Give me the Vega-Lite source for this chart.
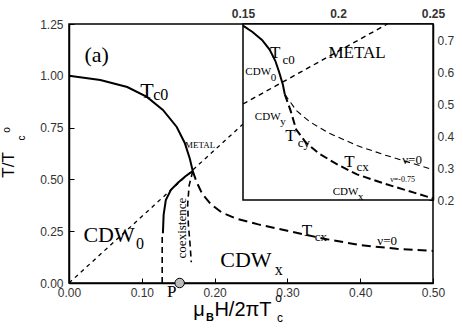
{
  "$schema": "https://vega.github.io/schema/vega-lite/v6.json",
  "width": 364,
  "height": 259,
  "autosize": {"type": "none"},
  "padding": {"left": 69, "top": 24, "right": 30, "bottom": 45},
  "background": "white",
  "config": {"view": {"stroke": "black", "strokeWidth": 1.5}},
  "datasets": {
    "lines": [
      {"s": "tc0", "i": 0, "x": 0.0, "y": 1.0},
      {"s": "tc0", "i": 1, "x": 0.043, "y": 0.98},
      {"s": "tc0", "i": 2, "x": 0.08, "y": 0.946},
      {"s": "tc0", "i": 3, "x": 0.107, "y": 0.898},
      {"s": "tc0", "i": 4, "x": 0.129, "y": 0.835},
      {"s": "tc0", "i": 5, "x": 0.148, "y": 0.753},
      {"s": "tc0", "i": 6, "x": 0.159, "y": 0.676},
      {"s": "tc0", "i": 7, "x": 0.166, "y": 0.6},
      {"s": "tc0", "i": 8, "x": 0.17, "y": 0.54},
      {"s": "coex", "i": 0, "x": 0.129, "y": 0.24},
      {"s": "coex", "i": 1, "x": 0.13, "y": 0.33},
      {"s": "coex", "i": 2, "x": 0.133, "y": 0.4},
      {"s": "coex", "i": 3, "x": 0.14, "y": 0.45},
      {"s": "coex", "i": 4, "x": 0.15, "y": 0.485},
      {"s": "coex", "i": 5, "x": 0.16, "y": 0.515},
      {"s": "coex", "i": 6, "x": 0.17, "y": 0.54},
      {"s": "diag", "i": 0, "x": 0.0, "y": 0.0},
      {"s": "diag", "i": 1, "x": 0.24, "y": 0.77},
      {"s": "vleft", "i": 0, "x": 0.128, "y": 0.0},
      {"s": "vleft", "i": 1, "x": 0.128, "y": 0.23},
      {"s": "vright", "i": 0, "x": 0.17, "y": 0.54},
      {"s": "vright", "i": 1, "x": 0.165, "y": 0.47},
      {"s": "vright", "i": 2, "x": 0.163, "y": 0.38},
      {"s": "vright", "i": 3, "x": 0.164, "y": 0.28},
      {"s": "vright", "i": 4, "x": 0.166, "y": 0.2},
      {"s": "vright", "i": 5, "x": 0.168, "y": 0.1},
      {"s": "tcx", "i": 0, "x": 0.17, "y": 0.54},
      {"s": "tcx", "i": 1, "x": 0.175, "y": 0.49},
      {"s": "tcx", "i": 2, "x": 0.183, "y": 0.43},
      {"s": "tcx", "i": 3, "x": 0.195, "y": 0.38},
      {"s": "tcx", "i": 4, "x": 0.21, "y": 0.34},
      {"s": "tcx", "i": 5, "x": 0.23, "y": 0.31},
      {"s": "tcx", "i": 6, "x": 0.26, "y": 0.283},
      {"s": "tcx", "i": 7, "x": 0.3, "y": 0.252},
      {"s": "tcx", "i": 8, "x": 0.35, "y": 0.214},
      {"s": "tcx", "i": 9, "x": 0.4, "y": 0.183},
      {"s": "tcx", "i": 10, "x": 0.45, "y": 0.165},
      {"s": "tcx", "i": 11, "x": 0.5, "y": 0.155}
    ],
    "ilines": [
      {"s": "itc0", "i": 0, "x": 0.15, "y": 0.745},
      {"s": "itc0", "i": 1, "x": 0.155, "y": 0.725},
      {"s": "itc0", "i": 2, "x": 0.16, "y": 0.7},
      {"s": "itc0", "i": 3, "x": 0.164, "y": 0.67},
      {"s": "itc0", "i": 4, "x": 0.167, "y": 0.635},
      {"s": "itc0", "i": 5, "x": 0.169, "y": 0.6},
      {"s": "itc0", "i": 6, "x": 0.171, "y": 0.56},
      {"s": "itc0", "i": 7, "x": 0.172, "y": 0.53},
      {"s": "idiag", "i": 0, "x": 0.15, "y": 0.5},
      {"s": "idiag", "i": 1, "x": 0.226, "y": 0.75},
      {"s": "inu0", "i": 0, "x": 0.172, "y": 0.53},
      {"s": "inu0", "i": 1, "x": 0.178, "y": 0.48},
      {"s": "inu0", "i": 2, "x": 0.185, "y": 0.445},
      {"s": "inu0", "i": 3, "x": 0.195, "y": 0.41},
      {"s": "inu0", "i": 4, "x": 0.21, "y": 0.37},
      {"s": "inu0", "i": 5, "x": 0.225, "y": 0.34},
      {"s": "inu0", "i": 6, "x": 0.25, "y": 0.295},
      {"s": "inu75", "i": 0, "x": 0.172, "y": 0.53},
      {"s": "inu75", "i": 1, "x": 0.175, "y": 0.48},
      {"s": "inu75", "i": 2, "x": 0.178, "y": 0.42},
      {"s": "inu75", "i": 3, "x": 0.183, "y": 0.38},
      {"s": "inu75", "i": 4, "x": 0.19, "y": 0.345},
      {"s": "inu75", "i": 5, "x": 0.2, "y": 0.31},
      {"s": "inu75", "i": 6, "x": 0.21, "y": 0.28},
      {"s": "inu75", "i": 7, "x": 0.225, "y": 0.25},
      {"s": "inu75", "i": 8, "x": 0.24, "y": 0.223},
      {"s": "inu75", "i": 9, "x": 0.25, "y": 0.205}
    ],
    "mlab": [
      {"k": "big", "t": "(a)", "x": 0.038, "y": 1.1},
      {"k": "big", "t": "T", "x": 0.107, "y": 0.926},
      {"k": "big", "t": "CDW", "x": 0.055, "y": 0.232},
      {"k": "big", "t": "CDW", "x": 0.243, "y": 0.111},
      {"k": "sub", "t": "c0", "x": 0.126, "y": 0.907},
      {"k": "sub", "t": "0", "x": 0.0975, "y": 0.188},
      {"k": "sub", "t": "x", "x": 0.288, "y": 0.063},
      {"k": "mid", "t": "T", "x": 0.327, "y": 0.251},
      {"k": "mid", "t": "P", "x": 0.141, "y": -0.043},
      {"k": "sm", "t": "cx", "x": 0.346, "y": 0.222},
      {"k": "sm", "t": "ν=0", "x": 0.437, "y": 0.203},
      {"k": "tiny", "t": "METAL", "x": 0.18, "y": 0.666},
      {"k": "rot", "t": "coexistence", "x": 0.155, "y": 0.265},
      {"k": "tbig", "t": "μ", "x": 0.1786, "y": -0.13},
      {"k": "tbig", "t": "H/2πT", "x": 0.239, "y": -0.13},
      {"k": "tsub", "t": "B", "x": 0.1937, "y": -0.169},
      {"k": "tss", "t": "o", "x": 0.288, "y": -0.07},
      {"k": "tss", "t": "c", "x": 0.29, "y": -0.169},
      {"k": "yt", "t": "T/T", "x": -0.082, "y": 0.57},
      {"k": "ytss", "t": "c", "x": -0.0646, "y": 0.7},
      {"k": "ytss", "t": "o", "x": -0.085, "y": 0.738}
    ],
    "ilab": [
      {"k": "it", "t": "T", "x": 0.167, "y": 0.659},
      {"k": "it", "t": "T", "x": 0.175, "y": 0.4},
      {"k": "it", "t": "T", "x": 0.206, "y": 0.319},
      {"k": "it", "t": "METAL", "x": 0.21, "y": 0.659},
      {"k": "isub", "t": "c0", "x": 0.174, "y": 0.638},
      {"k": "isub", "t": "cy", "x": 0.182, "y": 0.378},
      {"k": "isub", "t": "cx", "x": 0.213, "y": 0.303},
      {"k": "isub", "t": "ν=0", "x": 0.239, "y": 0.325},
      {"k": "ism", "t": "CDW", "x": 0.158, "y": 0.6},
      {"k": "ism", "t": "0", "x": 0.166, "y": 0.581},
      {"k": "ism", "t": "CDW", "x": 0.163, "y": 0.458},
      {"k": "ism", "t": "y", "x": 0.171, "y": 0.443},
      {"k": "ism", "t": "CDW", "x": 0.204, "y": 0.225},
      {"k": "ism", "t": "x", "x": 0.212, "y": 0.21},
      {"k": "itiny", "t": "ν=-0.75", "x": 0.234, "y": 0.263}
    ],
    "box": [{"x1": 0.15, "x2": 0.25, "y1": 0.2, "y2": 0.75}],
    "pt": [{"x": 0.152, "y": 0}]
  },
  "layer": [
    {
      "layer": [
        {
          "data": {"name": "lines"},
          "transform": [{"filter": "datum.s == 'tc0' || datum.s == 'coex'"}],
          "mark": {"type": "line", "color": "black", "strokeWidth": 2},
          "encoding": {
            "x": {"field": "x", "type": "quantitative",
              "scale": {"domain": [0, 0.5], "nice": false, "zero": false},
              "axis": {"orient": "bottom", "title": null, "grid": false,
                "values": [0, 0.05, 0.1, 0.15, 0.2, 0.25, 0.3, 0.35, 0.4, 0.45, 0.5],
                "labelExpr": "round(datum.value*100) % 10 == 0 ? format(datum.value, '.2f') : ''",
                "tickSize": -5, "tickColor": "black", "domainColor": "black", "domainWidth": 1.5,
                "labelPadding": 9, "labelFont": "Liberation Sans", "labelFontSize": 12, "labelColor": "#333", "labelFlush": false, "labelOverlap": false}},
            "y": {"field": "y", "type": "quantitative",
              "scale": {"domain": [0, 1.25], "nice": false, "zero": false},
              "axis": {"orient": "left", "title": null, "grid": false,
                "values": [0, 0.125, 0.25, 0.375, 0.5, 0.625, 0.75, 0.875, 1, 1.125, 1.25],
                "labelExpr": "round(datum.value*1000) % 250 == 0 ? format(datum.value, '.2f') : ''",
                "tickSize": -5, "tickColor": "black", "domainColor": "black", "domainWidth": 1.5,
                "labelPadding": 11, "labelFont": "Liberation Sans", "labelFontSize": 12, "labelColor": "#333", "labelFlush": false, "labelOverlap": false}},
            "detail": {"field": "s"},
            "order": {"field": "i"}
          }
        },
        {
          "data": {"name": "lines"},
          "transform": [{"filter": "datum.s == 'diag'"}],
          "mark": {"type": "line", "color": "black", "strokeWidth": 1.3, "strokeDash": [4, 4]},
          "encoding": {"x": {"field": "x", "type": "quantitative"}, "y": {"field": "y", "type": "quantitative"}, "order": {"field": "i"}}
        },
        {
          "data": {"name": "lines"},
          "transform": [{"filter": "datum.s == 'vleft' || datum.s == 'vright'"}],
          "mark": {"type": "line", "color": "black", "strokeWidth": 1.6, "strokeDash": [6, 4]},
          "encoding": {"x": {"field": "x", "type": "quantitative"}, "y": {"field": "y", "type": "quantitative"}, "detail": {"field": "s"}, "order": {"field": "i"}}
        },
        {
          "data": {"name": "lines"},
          "transform": [{"filter": "datum.s == 'tcx'"}],
          "mark": {"type": "line", "color": "black", "strokeWidth": 2, "strokeDash": [9, 5]},
          "encoding": {"x": {"field": "x", "type": "quantitative"}, "y": {"field": "y", "type": "quantitative"}, "order": {"field": "i"}}
        },
        {
          "data": {"name": "pt"},
          "mark": {"type": "point", "shape": "circle", "filled": true, "fill": "#bbb", "stroke": "black", "strokeWidth": 1, "size": 90, "opacity": 1},
          "encoding": {"x": {"field": "x", "type": "quantitative"}, "y": {"field": "y", "type": "quantitative"}}
        },
        {
          "data": {"name": "mlab"},
          "transform": [{"filter": "datum.k == 'big'"}],
          "mark": {"type": "text", "font": "Liberation Serif", "fontSize": 22, "align": "center", "baseline": "middle", "color": "black"},
          "encoding": {"x": {"field": "x", "type": "quantitative"}, "y": {"field": "y", "type": "quantitative"}, "text": {"field": "t"}}
        },
        {
          "data": {"name": "mlab"},
          "transform": [{"filter": "datum.k == 'sub'"}],
          "mark": {"type": "text", "font": "Liberation Serif", "fontSize": 16, "align": "center", "baseline": "middle", "color": "black"},
          "encoding": {"x": {"field": "x", "type": "quantitative"}, "y": {"field": "y", "type": "quantitative"}, "text": {"field": "t"}}
        },
        {
          "data": {"name": "mlab"},
          "transform": [{"filter": "datum.k == 'mid'"}],
          "mark": {"type": "text", "font": "Liberation Serif", "fontSize": 17, "align": "center", "baseline": "middle", "color": "black"},
          "encoding": {"x": {"field": "x", "type": "quantitative"}, "y": {"field": "y", "type": "quantitative"}, "text": {"field": "t"}}
        },
        {
          "data": {"name": "mlab"},
          "transform": [{"filter": "datum.k == 'sm'"}],
          "mark": {"type": "text", "font": "Liberation Serif", "fontSize": 13, "align": "center", "baseline": "middle", "color": "black"},
          "encoding": {"x": {"field": "x", "type": "quantitative"}, "y": {"field": "y", "type": "quantitative"}, "text": {"field": "t"}}
        },
        {
          "data": {"name": "mlab"},
          "transform": [{"filter": "datum.k == 'tiny'"}],
          "mark": {"type": "text", "font": "Liberation Serif", "fontSize": 9, "align": "center", "baseline": "middle", "color": "black"},
          "encoding": {"x": {"field": "x", "type": "quantitative"}, "y": {"field": "y", "type": "quantitative"}, "text": {"field": "t"}}
        },
        {
          "data": {"name": "mlab"},
          "transform": [{"filter": "datum.k == 'rot'"}],
          "mark": {"type": "text", "font": "Liberation Serif", "fontSize": 13, "angle": 270, "align": "center", "baseline": "middle", "color": "black"},
          "encoding": {"x": {"field": "x", "type": "quantitative"}, "y": {"field": "y", "type": "quantitative"}, "text": {"field": "t"}}
        },
        {
          "data": {"name": "mlab"},
          "transform": [{"filter": "datum.k == 'tbig'"}],
          "mark": {"type": "text", "font": "Liberation Sans", "fontSize": 20, "align": "center", "baseline": "middle", "color": "black"},
          "encoding": {"x": {"field": "x", "type": "quantitative"}, "y": {"field": "y", "type": "quantitative"}, "text": {"field": "t"}}
        },
        {
          "data": {"name": "mlab"},
          "transform": [{"filter": "datum.k == 'tsub'"}],
          "mark": {"type": "text", "font": "Liberation Sans", "fontSize": 11, "fontWeight": "bold", "align": "center", "baseline": "middle", "color": "black"},
          "encoding": {"x": {"field": "x", "type": "quantitative"}, "y": {"field": "y", "type": "quantitative"}, "text": {"field": "t"}}
        },
        {
          "data": {"name": "mlab"},
          "transform": [{"filter": "datum.k == 'tss'"}],
          "mark": {"type": "text", "font": "Liberation Sans", "fontSize": 12, "align": "center", "baseline": "middle", "color": "black"},
          "encoding": {"x": {"field": "x", "type": "quantitative"}, "y": {"field": "y", "type": "quantitative"}, "text": {"field": "t"}}
        },
        {
          "data": {"name": "mlab"},
          "transform": [{"filter": "datum.k == 'yt'"}],
          "mark": {"type": "text", "font": "Liberation Sans", "fontSize": 17, "angle": 270, "align": "center", "baseline": "middle", "color": "black"},
          "encoding": {"x": {"field": "x", "type": "quantitative"}, "y": {"field": "y", "type": "quantitative"}, "text": {"field": "t"}}
        },
        {
          "data": {"name": "mlab"},
          "transform": [{"filter": "datum.k == 'ytss'"}],
          "mark": {"type": "text", "font": "Liberation Sans", "fontSize": 10, "angle": 270, "align": "center", "baseline": "middle", "color": "black"},
          "encoding": {"x": {"field": "x", "type": "quantitative"}, "y": {"field": "y", "type": "quantitative"}, "text": {"field": "t"}}
        }
      ]
    },
    {
      "layer": [
        {
          "data": {"name": "box"},
          "mark": {"type": "rect", "fill": "white", "stroke": "black", "strokeWidth": 1.5},
          "encoding": {
            "x": {"field": "x1", "type": "quantitative",
              "scale": {"domain": [0.15, 0.25], "range": [174, 364], "nice": false, "zero": false},
              "axis": {"orient": "top", "title": null, "grid": false,
                "values": [0.15, 0.175, 0.2, 0.225, 0.25],
                "labelExpr": "round(datum.value*1000) % 50 == 0 ? format(datum.value, '~g') : ''",
                "tickSize": -4, "tickColor": "black", "domainColor": "black", "domainWidth": 1.5,
                "labelPadding": 8, "labelFont": "Liberation Sans", "labelFontSize": 12, "labelFontWeight": "bold", "labelColor": "#333", "labelFlush": false, "labelOverlap": false}},
            "x2": {"field": "x2"},
            "y": {"field": "y1", "type": "quantitative",
              "scale": {"domain": [0.2, 0.75], "range": [176, 0], "nice": false, "zero": false},
              "axis": {"orient": "right", "title": null, "grid": false,
                "values": [0.2, 0.25, 0.3, 0.35, 0.4, 0.45, 0.5, 0.55, 0.6, 0.65, 0.7],
                "labelExpr": "round(datum.value*100) % 10 == 0 ? format(datum.value, '.1f') : ''",
                "tickSize": -4, "tickColor": "black", "domainColor": "black", "domainWidth": 1.5,
                "labelPadding": 8, "labelFont": "Liberation Sans", "labelFontSize": 12, "labelColor": "#333", "labelFlush": false, "labelOverlap": false}},
            "y2": {"field": "y2"}
          }
        },
        {
          "data": {"name": "ilines"},
          "transform": [{"filter": "datum.s == 'itc0'"}],
          "mark": {"type": "line", "color": "black", "strokeWidth": 2},
          "encoding": {"x": {"field": "x", "type": "quantitative"}, "y": {"field": "y", "type": "quantitative"}, "order": {"field": "i"}}
        },
        {
          "data": {"name": "ilines"},
          "transform": [{"filter": "datum.s == 'idiag'"}],
          "mark": {"type": "line", "color": "black", "strokeWidth": 1.4, "strokeDash": [5, 4]},
          "encoding": {"x": {"field": "x", "type": "quantitative"}, "y": {"field": "y", "type": "quantitative"}, "order": {"field": "i"}}
        },
        {
          "data": {"name": "ilines"},
          "transform": [{"filter": "datum.s == 'inu0'"}],
          "mark": {"type": "line", "color": "black", "strokeWidth": 1.1, "strokeDash": [6, 4]},
          "encoding": {"x": {"field": "x", "type": "quantitative"}, "y": {"field": "y", "type": "quantitative"}, "order": {"field": "i"}}
        },
        {
          "data": {"name": "ilines"},
          "transform": [{"filter": "datum.s == 'inu75'"}],
          "mark": {"type": "line", "color": "black", "strokeWidth": 2, "strokeDash": [8, 4]},
          "encoding": {"x": {"field": "x", "type": "quantitative"}, "y": {"field": "y", "type": "quantitative"}, "order": {"field": "i"}}
        },
        {
          "data": {"name": "ilab"},
          "transform": [{"filter": "datum.k == 'it'"}],
          "mark": {"type": "text", "font": "Liberation Serif", "fontSize": 17, "align": "center", "baseline": "middle", "color": "black"},
          "encoding": {"x": {"field": "x", "type": "quantitative"}, "y": {"field": "y", "type": "quantitative"}, "text": {"field": "t"}}
        },
        {
          "data": {"name": "ilab"},
          "transform": [{"filter": "datum.k == 'isub'"}],
          "mark": {"type": "text", "font": "Liberation Serif", "fontSize": 13, "align": "center", "baseline": "middle", "color": "black"},
          "encoding": {"x": {"field": "x", "type": "quantitative"}, "y": {"field": "y", "type": "quantitative"}, "text": {"field": "t"}}
        },
        {
          "data": {"name": "ilab"},
          "transform": [{"filter": "datum.k == 'ism'"}],
          "mark": {"type": "text", "font": "Liberation Serif", "fontSize": 11, "align": "center", "baseline": "middle", "color": "black"},
          "encoding": {"x": {"field": "x", "type": "quantitative"}, "y": {"field": "y", "type": "quantitative"}, "text": {"field": "t"}}
        },
        {
          "data": {"name": "ilab"},
          "transform": [{"filter": "datum.k == 'itiny'"}],
          "mark": {"type": "text", "font": "Liberation Serif", "fontSize": 8, "align": "center", "baseline": "middle", "color": "black"},
          "encoding": {"x": {"field": "x", "type": "quantitative"}, "y": {"field": "y", "type": "quantitative"}, "text": {"field": "t"}}
        }
      ]
    }
  ],
  "resolve": {"scale": {"x": "independent", "y": "independent"}, "axis": {"x": "independent", "y": "independent"}}
}
